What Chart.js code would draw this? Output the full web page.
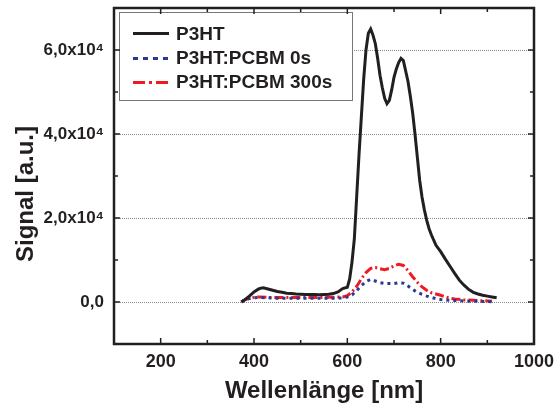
<!DOCTYPE html>
<html>
<head>
<meta charset="utf-8">
<script src="https://cdn.jsdelivr.net/npm/chart.js@4.4.1/dist/chart.umd.min.js"></script>
<style>
html,body{margin:0;padding:0;background:#fff;}
canvas{display:block;}
</style>
</head>
<body>
<canvas id="c" width="557" height="411"></canvas>
<script>
// ---- data ----
const seriesNames = ["P3HT", "P3HT:PCBM 0s", "P3HT:PCBM 300s"];

const p3htWavelength = [373,380,390,400,410,415,420,430,440,450,460,470,480,490,500,510,520,530,540,550,560,570,580,590,600,605,610,615,620,625,630,635,640,645,650,655,660,665,670,675,680,685,690,695,700,705,710,715,720,725,730,735,740,745,750,755,760,765,770,775,780,790,800,810,820,830,840,850,860,870,880,890,900,910,920];
const p3htSignal =     [0,500,1400,2400,3100,3300,3400,3100,2800,2500,2300,2100,2000,1900,1850,1800,1800,1800,1750,1800,1850,2000,2400,3200,3500,5500,9500,15000,25000,35000,44000,53000,60000,64000,65000,63500,61500,58000,54000,51000,48500,47200,48000,50500,53500,55500,57000,58000,57500,55000,52500,49000,45000,40000,34500,29000,25000,22000,19500,17500,16000,13500,12000,10200,8500,6800,5200,4000,3000,2300,1900,1600,1400,1200,1000];

const pcbm0Wavelength = [373,380,390,400,410,430,450,470,490,510,530,550,570,590,600,610,620,630,640,650,660,670,680,690,700,710,720,730,740,750,760,770,780,790,800,820,840,860,880,900,915];
const pcbm0Signal =     [0,500,800,1000,1100,1000,900,900,900,900,900,900,900,950,1200,1700,2700,3900,4900,5400,5000,4600,4400,4400,4400,4600,4500,3800,3000,2300,1800,1400,1100,800,600,400,300,200,150,100,50];

const pcbm300Wavelength = [373,380,390,400,410,430,450,470,490,510,530,550,570,590,600,610,620,630,640,650,660,670,680,690,700,710,720,730,740,750,760,770,780,790,800,810,820,830,850,870,890,910];
const pcbm300Signal =     [0,500,900,1100,1200,1100,1100,1100,1100,1100,1100,1100,1150,1200,1500,2400,3700,5500,7000,8000,8200,7900,7700,8000,8600,9000,8700,7500,6000,4700,3600,2800,2200,1900,1600,1200,900,700,500,400,300,200];

const xMajorTicks = [200,400,600,800,1000];
const xMinorTicks = [300,500,700,900];
const yMajorTicks = [0,20000,40000,60000];
const yMinorTicks = [10000,30000,50000];
const yTickLabels = ["0,0","2,0x10\u2074","4,0x10\u2074","6,0x10\u2074"];
const xTitle = "Wellenlänge [nm]";
const yTitle = "Signal [a.u.]";

const colors = ["#231f20", "#2b3990", "#ed1c24"];
const dashes = [[], [3,4], [9,3,2,3]];
const widths = [3, 3, 3];

function pts(xs, ys){ return xs.map((x,i)=>({x:x, y:ys[i]})); }

const FONT = "'Liberation Sans', Arial, sans-serif";

const framePlugin = {
  id: 'frame',
  afterDatasetsDraw(chart){
    const ctx = chart.ctx;
    const a = chart.chartArea;
    const xs = chart.scales.x, ys = chart.scales.y;
    ctx.save();
    // legend box
    ctx.fillStyle = '#fff';
    ctx.fillRect(119.5, 12.5, 233, 88);
    ctx.strokeStyle = '#777';
    ctx.lineWidth = 1;
    ctx.strokeRect(119.5, 12.5, 233, 88);
    const ly = [33.5, 58.5, 82.5];
    const lb = [39.5, 64, 88.3];
    for (let i=0;i<3;i++){
      ctx.beginPath();
      ctx.strokeStyle = colors[i];
      ctx.lineWidth = 3;
      ctx.setLineDash(i===1?[5,5]:(i===2?[12,4,3,4]:[]));
      ctx.moveTo(133, ly[i]); ctx.lineTo(169, ly[i]);
      ctx.stroke();
      ctx.setLineDash([]);
      ctx.fillStyle = '#231f20';
      ctx.font = "bold 19px " + FONT;
      ctx.textAlign = 'left';
      ctx.textBaseline = 'alphabetic';
      ctx.fillText(seriesNames[i], 176, lb[i]);
    }
    // frame
    ctx.strokeStyle = '#231f20';
    ctx.lineWidth = 2.5;
    ctx.strokeRect(a.left, a.top, a.right - a.left, a.bottom - a.top);
    ctx.lineWidth = 1.5;
    ctx.beginPath();
    const tick = (vals, len) => {
      vals.forEach(v => {
        const px = xs.getPixelForValue(v);
        ctx.moveTo(px, a.bottom); ctx.lineTo(px, a.bottom - len);
        ctx.moveTo(px, a.top); ctx.lineTo(px, a.top + len);
      });
    };
    const ytick = (vals, len) => {
      vals.forEach(v => {
        const py = ys.getPixelForValue(v);
        ctx.moveTo(a.left, py); ctx.lineTo(a.left + len, py);
        ctx.moveTo(a.right, py); ctx.lineTo(a.right - len, py);
      });
    };
    tick(xMajorTicks, 6); tick(xMinorTicks, 4);
    ytick(yMajorTicks, 6); ytick(yMinorTicks, 4);
    ctx.stroke();
    // titles
    ctx.fillStyle = '#231f20';
    ctx.font = "bold 24px " + FONT;
    ctx.textAlign = 'center';
    ctx.textBaseline = 'alphabetic';
    ctx.fillText(xTitle, (a.left + a.right)/2, 398);
    ctx.translate(33, 194);
    ctx.rotate(-Math.PI/2);
    ctx.fillText(yTitle, 0, 0);
    ctx.restore();
  }
};

new Chart(document.getElementById('c'), {
  type: 'scatter',
  data: {
    datasets: [
      { label: seriesNames[0], data: pts(p3htWavelength, p3htSignal), showLine: true, borderColor: colors[0], borderWidth: widths[0], borderDash: dashes[0], pointRadius: 0, tension: 0 },
      { label: seriesNames[1], data: pts(pcbm0Wavelength, pcbm0Signal), showLine: true, borderColor: colors[1], borderWidth: widths[1], borderDash: dashes[1], pointRadius: 0, tension: 0 },
      { label: seriesNames[2], data: pts(pcbm300Wavelength, pcbm300Signal), showLine: true, borderColor: colors[2], borderWidth: widths[2], borderDash: dashes[2], pointRadius: 0, tension: 0 }
    ]
  },
  options: {
    responsive: false,
    animation: false,
    layout: { padding: { left: 0, top: 8, right: 23, bottom: 0 } },
    plugins: { legend: { display: false }, tooltip: { enabled: false } },
    scales: {
      x: {
        type: 'linear', min: 100, max: 1000,
        afterBuildTicks: s => { s.ticks = xMajorTicks.map(v => ({value: v})); },
        afterFit: s => { s.height = 67; s.paddingLeft = 0; s.paddingRight = 0; },
        grid: { display: false, drawTicks: false },
        border: { display: false },
        ticks: { color: '#231f20', padding: 7, maxRotation: 0, font: { family: FONT, size: 18, weight: 'bold' }, callback: v => String(v) }
      },
      y: {
        type: 'linear', min: -10000, max: 70000,
        afterBuildTicks: s => { s.ticks = yMajorTicks.map(v => ({value: v})); },
        afterFit: s => { s.width = 114; s.paddingTop = 0; s.paddingBottom = 0; },
        grid: { display: true, drawTicks: false, color: '#8a8a8a', lineWidth: 1 },
        border: { display: false, dash: [1,1] },
        ticks: { color: '#231f20', padding: 10, font: { family: FONT, size: 17, weight: 'bold' }, callback: v => yTickLabels[yMajorTicks.indexOf(v)] }
      }
    }
  },
  plugins: [framePlugin]
});
</script>
</body>
</html>
